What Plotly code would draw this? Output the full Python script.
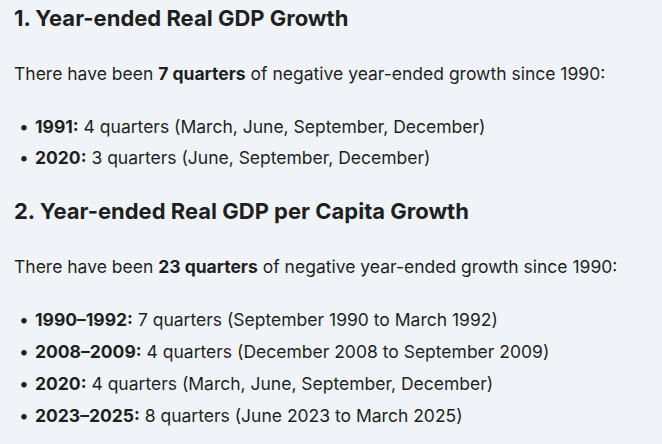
import plotly.graph_objects as go

# section headings and summary counts
section_titles = ["Year-ended Real GDP Growth", "Year-ended Real GDP per Capita Growth"]
negative_quarter_counts = [7, 23]

# periods of negative year-ended growth, per section
period_labels = [
    ["1991", "2020"],
    ["1990–1992", "2008–2009", "2020", "2023–2025"],
]
period_quarters = [
    [4, 3],
    [7, 4, 4, 8],
]
period_details = [
    ["March, June, September, December", "June, September, December"],
    ["September 1990 to March 1992", "December 2008 to September 2009",
     "March, June, September, December", "June 2023 to March 2025"],
]

W, H = 662, 444
FONT = "Inter, Roboto, sans-serif"
INK = "#1f1f1f"
BG = "#f0f4f9"

fig = go.Figure()
notes = []


def add_text(x, y, text, size):
    notes.append(dict(x=x / W, y=1 - y / H, xref="paper", yref="paper",
                      xanchor="left", yanchor="middle", showarrow=False,
                      text=text, font=dict(family=FONT, size=size, color=INK)))


y = 18
for i, title in enumerate(section_titles):
    add_text(12, y, f"<b>{i + 1}. {title}</b>", 22)
    y += 55
    add_text(12, y, f"There have been <b>{negative_quarter_counts[i]} quarters</b> "
                    "of negative year-ended growth since 1990:", 17.5)
    y += 53
    for lab, q, det in zip(period_labels[i], period_quarters[i], period_details[i]):
        add_text(17, y, "•", 17.5)
        add_text(33, y, f"<b>{lab}:</b> {q} quarters ({det})", 17.5)
        y += 32
    y += 21

fig.update_layout(
    width=W, height=H,
    margin=dict(l=0, r=0, t=0, b=0),
    paper_bgcolor=BG, plot_bgcolor=BG,
    xaxis=dict(visible=False), yaxis=dict(visible=False),
    annotations=notes,
    showlegend=False,
)

# fig.show() # for debug
fig.write_html("out.html", config={"displayModeBar": False},
               post_script=f"document.body.style.margin='0';document.body.style.background='{BG}';")
